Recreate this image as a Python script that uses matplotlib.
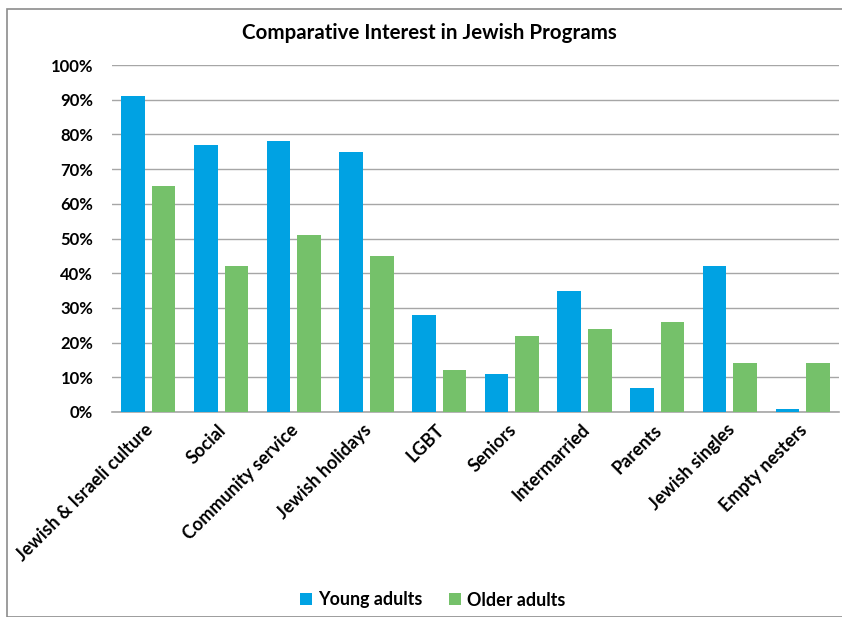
import matplotlib.pyplot as plt
from matplotlib.patches import Rectangle
import numpy as np

plt.rcParams['font.family'] = ['Lato', 'DejaVu Sans']
plt.rcParams['font.weight'] = 'bold'

programs = ['Jewish & Israeli culture', 'Social', 'Community service',
            'Jewish holidays', 'LGBT', 'Seniors', 'Intermarried', 'Parents',
            'Jewish singles', 'Empty nesters']
young_adults = [0.91, 0.77, 0.78, 0.75, 0.28, 0.11, 0.35, 0.07, 0.42, 0.01]
older_adults = [0.65, 0.42, 0.51, 0.45, 0.12, 0.22, 0.24, 0.26, 0.14, 0.14]
pct_ticks = [0.0, 0.1, 0.2, 0.3, 0.4, 0.5, 0.6, 0.7, 0.8, 0.9, 1.0]

BLUE = '#00A2E3'
GREEN = '#75C16A'

W, H = 842, 617
fig = plt.figure(figsize=(W / 100, H / 100), dpi=100)

# chart frame (only top and left edges fall inside the image)
fig.patches.append(Rectangle((6.5 / W, 0), 1.0, 1 - 9 / H, transform=fig.transFigure,
                             fill=False, edgecolor='#8c8c8c', linewidth=1.2))

ax = fig.add_axes([112 / W, 1 - 412 / H, (839 - 112) / W, (412 - 65) / H])

x = np.arange(len(programs))
width = 0.325
off = 0.21
ax.bar(x - off, young_adults, width, color=BLUE, label='Young adults', zorder=3)
ax.bar(x + off, older_adults, width, color=GREEN, label='Older adults', zorder=3)

ax.set_xlim(-0.5, len(programs) - 0.5)
ax.set_ylim(0, 1.0)
ax.set_yticks(pct_ticks)
ax.set_yticklabels([f'{int(round(t * 100))}%' for t in pct_ticks], fontsize=12, fontweight='bold')
ax.yaxis.grid(True, color='#a6a6a6', linewidth=1.0, zorder=0)
ax.tick_params(axis='y', length=0, pad=13.5)

ax.set_xticks(x + 0.03)
ax.set_xticklabels(programs, rotation=45, ha='right', va='center',
                   rotation_mode='anchor', fontsize=13, fontweight='bold')
ax.tick_params(axis='x', length=0, pad=11)

for side in ['top', 'right', 'left']:
    ax.spines[side].set_visible(False)
ax.spines['bottom'].set_color('#a6a6a6')
ax.spines['bottom'].set_linewidth(1.2)

fig.text(429 / W, 1 - 33 / H, 'Comparative Interest in Jewish Programs',
         ha='center', va='center', fontsize=14.8, fontweight='bold')

fig.legend(loc='center', bbox_to_anchor=(433 / W, 1 - 600 / H), ncol=2,
           frameon=False, handlelength=0.65, handleheight=0.65, handletextpad=0.35,
           columnspacing=1.5, prop={'size': 12.9, 'weight': 'bold'})

fig.savefig('out.png', dpi=100)
